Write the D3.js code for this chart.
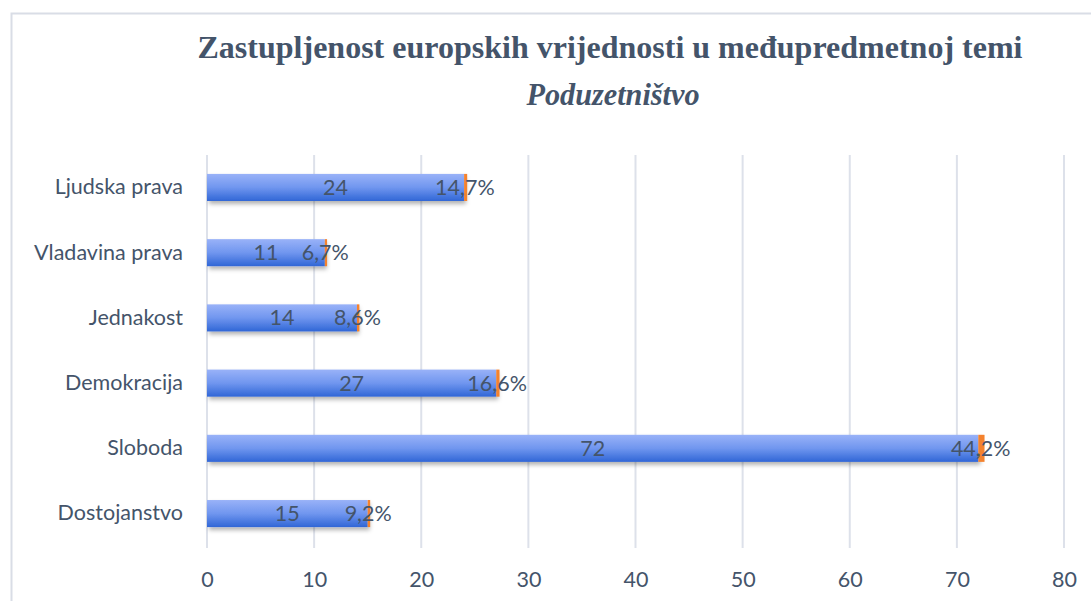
<!DOCTYPE html>
<html><head><meta charset="utf-8">
<script src="https://cdn.jsdelivr.net/npm/d3@7"></script>
<style>body{margin:0;background:#fff}svg{display:block}</style>
</head><body>
<svg id="c" width="1091" height="601"></svg>
<script>
const categories = ["Ljudska prava","Vladavina prava","Jednakost","Demokracija","Sloboda","Dostojanstvo"];
const counts = [24, 11, 14, 27, 72, 15];
const percents = [14.7, 6.7, 8.6, 16.6, 44.2, 9.2];
const xTicks = [0,10,20,30,40,50,60,70,80];

const svg = d3.select("#c");
const textColor = "#44546a";
const defs = svg.append("defs");
const g1 = defs.append("linearGradient").attr("id","bg").attr("x1",0).attr("y1",0).attr("x2",0).attr("y2",1);
g1.append("stop").attr("offset","0%").attr("stop-color","#99b2f8");
g1.append("stop").attr("offset","50%").attr("stop-color","#7096ef");
g1.append("stop").attr("offset","100%").attr("stop-color","#3066d6");
const f = defs.append("filter").attr("id","sh").attr("x","-5%").attr("y","-30%").attr("width","110%").attr("height","180%");
f.append("feDropShadow").attr("dx",2).attr("dy",3).attr("stdDeviation",2).attr("flood-color","#000").attr("flood-opacity",0.3);

// border
svg.append("path").attr("d","M11.5,601 V13.5 H1091").attr("fill","none").attr("stroke","#d9dde6").attr("stroke-width",2);

svg.append("text").attr("x",610).attr("y",58).attr("text-anchor","middle")
  .attr("font-family","Liberation Serif").attr("font-weight","bold").attr("font-size",31).attr("fill",textColor)
  .attr("textLength",825).attr("lengthAdjust","spacingAndGlyphs")
  .text("Zastupljenost europskih vrijednosti u međupredmetnoj temi");
svg.append("text").attr("x",613).attr("y",105).attr("text-anchor","middle")
  .attr("font-family","Liberation Serif").attr("font-weight","bold").attr("font-style","italic").attr("font-size",31).attr("fill",textColor)
  .attr("textLength",173).attr("lengthAdjust","spacingAndGlyphs")
  .text("Poduzetništvo");

const x = d3.scaleLinear().domain([0,80]).range([207,1064]);
const y = d3.scaleBand().domain(categories).range([155,546]).paddingInner(0.585).paddingOuter(0.29);

const grid = svg.append("g");
grid.selectAll("line").data(xTicks).join("line")
  .attr("x1",d=>x(d)).attr("x2",d=>x(d)).attr("y1",155).attr("y2",548)
  .attr("stroke","#dde1ea").attr("stroke-width",2);

const xAxis = svg.append("g").attr("transform","translate(0,548)")
  .call(d3.axisBottom(x).tickValues(xTicks).tickSize(0).tickPadding(24));
xAxis.select(".domain").remove();
xAxis.selectAll("text").attr("font-family","Lato").attr("font-size",21.5).attr("fill",textColor);

const yAxis = svg.append("g").attr("transform","translate(207,0)")
  .call(d3.axisLeft(y).tickSize(0).tickPadding(24));
yAxis.select(".domain").remove();
yAxis.selectAll("text").attr("font-family","Lato").attr("font-size",21.5).attr("fill",textColor);

const rows = categories.map((c,i)=>({c, n:counts[i], p:percents[i]}));
svg.append("g").selectAll("rect").data(rows).join("rect")
  .attr("x",x(0)).attr("y",d=>y(d.c)).attr("width",d=>x(d.n)-x(0)).attr("height",y.bandwidth())
  .attr("fill","url(#bg)").attr("filter","url(#sh)");
svg.append("g").selectAll("rect").data(rows).join("rect")
  .attr("x",d=>x(d.n)).attr("y",d=>y(d.c)).attr("width",d=>x(d.n+d.p/100)-x(d.n)+1.5).attr("height",y.bandwidth())
  .attr("fill","#f4822e");

const lab = svg.append("g").attr("font-family","Lato").attr("font-size",21.5).attr("fill",textColor).attr("text-anchor","middle");
lab.selectAll("text.n").data(rows).join("text").attr("class","n")
  .attr("x",d=>x(d.n/2)).attr("y",d=>y(d.c)+y.bandwidth()/2).attr("dy","0.35em").text(d=>d.n);
lab.selectAll("text.p").data(rows).join("text").attr("class","p")
  .attr("x",d=>x(d.n+d.p/200)).attr("y",d=>y(d.c)+y.bandwidth()/2).attr("dy","0.35em")
  .text(d=>String(d.p).replace(".",",")+"%");
</script>
</body></html>
